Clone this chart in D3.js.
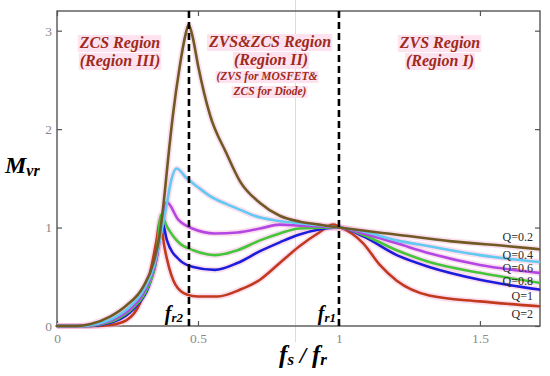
<!DOCTYPE html>
<html>
<head>
<meta charset="utf-8">
<script src="https://cdn.jsdelivr.net/npm/d3@7"></script>
<style>
  html, body { margin: 0; padding: 0; background: #fff; }
  svg { display: block; }
  svg text { font-family: "Liberation Serif", "Times New Roman", Times, "DejaVu Serif", serif; }
  .bi { font-weight: bold; font-style: italic; }
</style>
</head>
<body>
<svg id="chart" width="550" height="376"></svg>
<script>
// ---------------- DATA ----------------
const xTicks = [0, 0.5, 1, 1.5];
const xTickLabels = ["0", "0.5", "1", "1.5"];
const yTicks = [0, 1, 2, 3];
const yTickLabels = ["0", "1", "2", "3"];

const seriesNames = ["Q=0.2", "Q=0.4", "Q=0.6", "Q=0.8", "Q=1", "Q=2"];

const q02 = [[0,0],[0.07,0],[0.12,0.02],[0.188,0.095],[0.247,0.21],[0.306,0.40],[0.342,0.64],[0.365,0.94],[0.383,1.38],[0.392,1.64],[0.411,2.14],[0.436,2.65],[0.455,2.95],[0.467,3.06],[0.48,2.95],[0.5,2.65],[0.543,2.14],[0.60,1.76],[0.649,1.47],[0.72,1.25],[0.79,1.12],[0.862,1.06],[0.93,1.03],[1.0,1.0],[1.2,0.93],[1.4,0.86],[1.6,0.81],[1.71,0.78]];
const q04 = [[0,0],[0.09,0],[0.14,0.02],[0.2,0.08],[0.26,0.2],[0.31,0.38],[0.345,0.62],[0.37,0.95],[0.39,1.25],[0.405,1.48],[0.424,1.60],[0.46,1.50],[0.50,1.41],[0.543,1.32],[0.60,1.24],[0.65,1.18],[0.70,1.12],[0.78,1.07],[0.87,1.04],[1.0,1.0],[1.086,0.96],[1.205,0.87],[1.32,0.81],[1.5,0.72],[1.71,0.65]];
const q06 = [[0,0],[0.1,0],[0.15,0.02],[0.21,0.08],[0.27,0.2],[0.315,0.38],[0.35,0.65],[0.372,1.0],[0.389,1.26],[0.43,1.08],[0.48,0.99],[0.56,0.94],[0.64,0.95],[0.72,0.99],[0.79,1.03],[0.86,1.02],[1.0,1.0],[1.086,0.94],[1.205,0.84],[1.32,0.74],[1.5,0.62],[1.71,0.54]];
const q08 = [[0,0],[0.11,0],[0.16,0.02],[0.22,0.08],[0.275,0.2],[0.32,0.38],[0.352,0.68],[0.369,1.13],[0.39,1.01],[0.435,0.84],[0.483,0.77],[0.56,0.72],[0.64,0.77],[0.72,0.87],[0.79,0.94],[0.86,0.99],[1.0,1.0],[1.086,0.925],[1.205,0.77],[1.32,0.65],[1.5,0.54],[1.71,0.44]];
const q1 = [[0,0],[0.12,0],[0.17,0.02],[0.23,0.08],[0.28,0.2],[0.325,0.4],[0.355,0.72],[0.371,1.08],[0.39,0.87],[0.435,0.67],[0.483,0.60],[0.56,0.57],[0.64,0.64],[0.72,0.76],[0.79,0.85],[0.86,0.93],[0.93,0.98],[1.0,1.0],[1.086,0.91],[1.205,0.72],[1.32,0.60],[1.5,0.47],[1.71,0.37]];
const q2 = [[0,0],[0.14,0],[0.19,0.01],[0.247,0.06],[0.294,0.23],[0.33,0.54],[0.353,0.87],[0.366,1.08],[0.38,0.82],[0.39,0.68],[0.42,0.42],[0.46,0.32],[0.5,0.30],[0.57,0.30],[0.65,0.37],[0.72,0.47],[0.79,0.64],[0.86,0.81],[0.93,0.95],[0.98,1.03],[1.0,1.01],[1.086,0.84],[1.145,0.62],[1.205,0.46],[1.32,0.31],[1.5,0.25],[1.71,0.20]];

const seriesData = [q02, q04, q06, q08, q1, q2];
const resonantPoints = [0.468, 1.0];   // fr2, fr1

// ---------------- STYLE ----------------
const seriesColors = ["#6e5a22", "#62c9f0", "#b447e4", "#45c63a", "#1c1cdc", "#c23a1e"];
const drawOrder = [5, 4, 3, 2, 1, 0];

// ---------------- CHART ----------------
(function () {
const svg = d3.select("#chart");
const pL = 57, pR = 540, pT = 11, pB = 326;

const x = d3.scaleLinear().domain([0, 1.713]).range([pL, pR]);
const y = d3.scaleLinear().domain([0, 3.2]).range([pB, pT]);

// faint gray vertical seam from source image
svg.append("line")
  .attr("x1", 295.5).attr("x2", 295.5).attr("y1", 0).attr("y2", 342)
  .attr("stroke", "#dcdcdc").attr("stroke-width", 1);

// axes (inward ticks)
const gB = svg.append("g").attr("transform", `translate(0,${pB})`)
  .call(d3.axisBottom(x).tickValues(xTicks).tickFormat((d, i) => xTickLabels[i]).tickSizeInner(-5).tickSizeOuter(0).tickPadding(7));
const gT = svg.append("g").attr("transform", `translate(0,${pT})`)
  .call(d3.axisTop(x).tickValues(xTicks).tickFormat("").tickSizeInner(-5).tickSizeOuter(0));
const gL = svg.append("g").attr("transform", `translate(${pL},0)`)
  .call(d3.axisLeft(y).tickValues(yTicks).tickFormat((d, i) => yTickLabels[i]).tickSizeInner(-5).tickSizeOuter(0).tickPadding(5));
const gR = svg.append("g").attr("transform", `translate(${pR},0)`)
  .call(d3.axisRight(y).tickValues(yTicks).tickFormat("").tickSizeInner(-5).tickSizeOuter(0));

[gB, gT, gL, gR].forEach(g => {
  g.attr("font-family", null).attr("font-size", null);
  g.select(".domain").remove();
  g.selectAll(".tick line").attr("stroke", "#555").attr("stroke-width", 1.2);
  g.selectAll(".tick text").attr("fill", "#8a8a8a").style("font-size", "13.5px");
});

// frame
svg.append("rect")
  .attr("x", pL).attr("y", pT).attr("width", pR - pL).attr("height", pB - pT)
  .attr("fill", "none").attr("stroke", "#555").attr("stroke-width", 1.4);

// curves
const line = d3.line().x(d => x(d[0])).y(d => y(d[1])).curve(d3.curveMonotoneX);
const gCurves = svg.append("g");
drawOrder.forEach(i => {
  gCurves.append("path").datum(seriesData[i]).attr("d", line)
    .attr("fill", "none").attr("stroke", "#f6b8dc").attr("stroke-opacity", 0.45)
    .attr("stroke-width", 6).attr("stroke-linejoin", "round");
});
drawOrder.forEach(i => {
  gCurves.append("path").datum(seriesData[i]).attr("d", line)
    .attr("fill", "none").attr("stroke", seriesColors[i])
    .attr("stroke-width", 2.6).attr("stroke-linejoin", "round").attr("stroke-linecap", "round");
});

// dashed resonant lines
svg.selectAll("line.res").data(resonantPoints).enter().append("line")
  .attr("class", "res")
  .attr("x1", d => x(d)).attr("x2", d => x(d))
  .attr("y1", pT).attr("y2", pB + 2)
  .attr("stroke", "#000").attr("stroke-width", 2.6).attr("stroke-dasharray", "7,4");

// Q labels
const qLabelY = [237, 255, 268, 281, 296, 314];
seriesNames.forEach((name, i) => {
  svg.append("text").attr("x", 533).attr("y", qLabelY[i]).attr("dy", "0.35em")
    .attr("text-anchor", "end")
    .style("font-size", "12px").attr("fill", "#2a2a2a")
    .text(name);
});

// region labels with pink highlight
function regionText(cx, yBase, txt, size) {
  const t = svg.append("text").attr("class", "bi").attr("x", cx).attr("y", yBase).attr("text-anchor", "middle")
    .style("font-size", size + "px")
    .attr("fill", "#9e2a1c").text(txt);
  const b = t.node().getBBox();
  svg.insert("rect", () => t.node())
    .attr("x", b.x - 1).attr("y", b.y + 1).attr("width", b.width + 2).attr("height", b.height - 1)
    .attr("fill", "#fde2ef");
}
regionText(120, 48, "ZCS Region", 16);
regionText(120, 66, "(Region III)", 16);
regionText(270, 47, "ZVS&ZCS Region", 16);
regionText(271, 65, "(Region II)", 16);
regionText(267, 80, "(ZVS for MOSFET&", 11.5);
regionText(270, 95, "ZCS for Diode)", 11.5);
regionText(440, 48, "ZVS Region", 16);
regionText(440, 66, "(Region I)", 16);

// axis titles
const yTitle = svg.append("text").attr("class", "bi").attr("x", 5).attr("y", 173).attr("fill", "#000");
yTitle.append("tspan").style("font-size", "24px").text("M");
yTitle.append("tspan").style("font-size", "16px").attr("dy", 3).text("vr");

const xTitle = svg.append("text").attr("class", "bi").attr("x", 303).attr("y", 363).attr("text-anchor", "middle").attr("fill", "#000");
xTitle.append("tspan").style("font-size", "25px").text("f");
xTitle.append("tspan").style("font-size", "17px").attr("dy", 2).text("s");
xTitle.append("tspan").style("font-size", "23px").attr("dy", -2).text(" / ");
xTitle.append("tspan").style("font-size", "25px").text("f");
xTitle.append("tspan").style("font-size", "17px").attr("dy", 2).text("r");

// resonant markers
function frLabel(xRight, sub) {
  const t = svg.append("text").attr("class", "bi").attr("x", xRight).attr("y", 320).attr("text-anchor", "end").attr("fill", "#000");
  t.append("tspan").style("font-size", "20px").text("f");
  t.append("tspan").style("font-size", "13px").attr("dy", 2).text(sub);
}
frLabel(183, "r2");
frLabel(336, "r1");
})();
</script>
</body>
</html>
